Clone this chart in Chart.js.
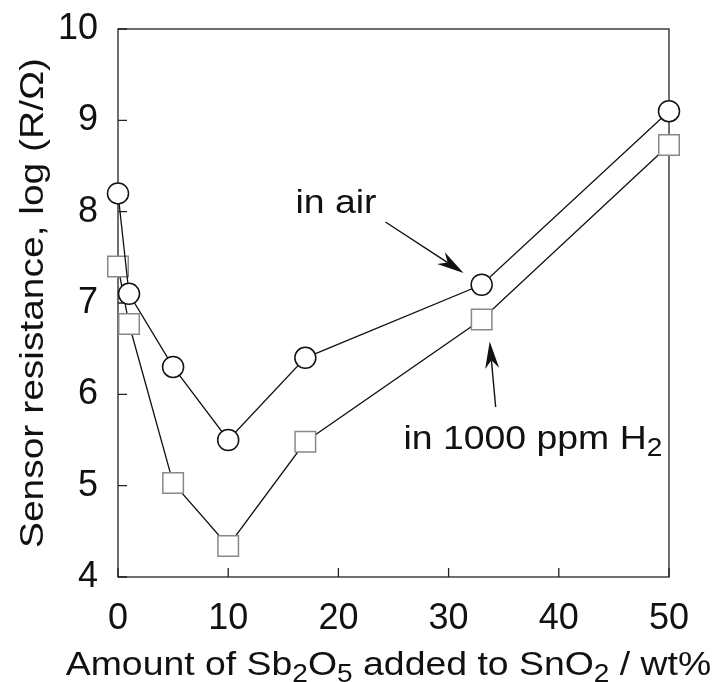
<!DOCTYPE html>
<html><head><meta charset="utf-8">
<script src="https://cdn.jsdelivr.net/npm/chart.js@4"></script>
<style>html,body{margin:0;padding:0;background:#fff}#wrap{width:716px;height:682px}</style>
</head><body><div id="wrap"><canvas id="c" width="716" height="682"></canvas></div>
<script>
// ---- data ----
const sb2o5Amount = [0, 1, 5, 10, 17, 33, 50];
const resistanceInAir = [8.2, 7.1, 6.3, 5.5, 6.4, 7.2, 9.1];
const resistanceInH2 = [7.4, 6.77, 5.03, 4.34, 5.48, 6.82, 8.73];
const xTickValues = [0, 10, 20, 30, 40, 50];
const yTickValues = [4, 5, 6, 7, 8, 9, 10];
const xTitleParts = [["Amount of Sb", 0], ["2", 1], ["O", 0], ["5", 1], [" added to SnO", 0], ["2", 1], [" / wt%", 0]];
const yTitle = "Sensor resistance, log (R/Ω)";
const airLabelParts = [["in air", 0]];
const h2LabelParts = [["in 1000 ppm H", 0], ["2", 1]];
// annotation anchors in data units
const airLabelAt = [16.1, 7.99];
const airArrow = [[24.27, 7.887], [31.36, 7.329]];
const h2LabelAt = [25.9, 5.40];
const h2Arrow = [[34.27, 5.861], [33.73, 6.579]];

const FONT = "'Liberation Sans', Arial, Helvetica, sans-serif";

function toPts(xs, ys) { return xs.map((x, i) => ({ x: x, y: ys[i] })); }

function drawParts(ctx, parts, x, y, size, stretch, align) {
  ctx.save();
  ctx.translate(x, y);
  ctx.scale(stretch, 1);
  let total = 0;
  const widths = parts.map(p => {
    ctx.font = (p[1] ? size * 0.75 : size) + "px " + FONT;
    const w = ctx.measureText(p[0]).width;
    total += w; return w;
  });
  let cx = align === 'center' ? -total / 2 : 0;
  ctx.textBaseline = 'alphabetic';
  ctx.textAlign = 'left';
  parts.forEach((p, i) => {
    ctx.font = (p[1] ? size * 0.75 : size) + "px " + FONT;
    ctx.fillText(p[0], cx, p[1] ? size * 0.2 : 0);
    cx += widths[i];
  });
  ctx.restore();
}

function drawArrow(ctx, x1, y1, x2, y2) {
  const dx = x2 - x1, dy = y2 - y1, len = Math.hypot(dx, dy);
  const ux = dx / len, uy = dy / len, nx = -uy, ny = ux;
  const L = 27, W = 7, N = 8;
  const bx = x2 - ux * L, by = y2 - uy * L;
  const kx = x2 - ux * (L - N), ky = y2 - uy * (L - N);
  ctx.save();
  ctx.strokeStyle = '#111'; ctx.fillStyle = '#111'; ctx.lineWidth = 1.4;
  ctx.beginPath(); ctx.moveTo(x1, y1); ctx.lineTo(kx, ky); ctx.stroke();
  ctx.beginPath();
  ctx.moveTo(x2, y2);
  ctx.lineTo(bx + nx * W, by + ny * W);
  ctx.lineTo(kx, ky);
  ctx.lineTo(bx - nx * W, by - ny * W);
  ctx.closePath(); ctx.fill();
  ctx.restore();
}

const framePlugin = {
  id: 'frame',
  beforeDatasetsDraw(chart) {
    const { ctx, chartArea: a, scales } = chart;
    ctx.save();
    ctx.strokeStyle = '#222'; ctx.lineWidth = 1.3;
    ctx.strokeRect(a.left, a.top, a.right - a.left, a.bottom - a.top);
    ctx.beginPath();
    yTickValues.forEach(v => {
      const y = scales.y.getPixelForValue(v);
      ctx.moveTo(a.left, y); ctx.lineTo(a.left + 9, y);
    });
    xTickValues.forEach(v => {
      const x = scales.x.getPixelForValue(v);
      ctx.moveTo(x, a.bottom); ctx.lineTo(x, a.bottom - 9);
    });
    ctx.stroke();
    ctx.restore();
  },
  afterDraw(chart) {
    const { ctx, chartArea: a, scales } = chart;
    const px = p => [scales.x.getPixelForValue(p[0]), scales.y.getPixelForValue(p[1])];
    ctx.save();
    ctx.fillStyle = '#111';
    // x title
    drawParts(ctx, xTitleParts, (a.left + a.right) / 2 - 5, 675, 34, 1.1, 'center');
    // y title
    ctx.save();
    ctx.translate(43, (a.top + a.bottom) / 2);
    ctx.rotate(-Math.PI / 2);
    drawParts(ctx, [[yTitle, 0]], 0, 0, 33, 1.18, 'center');
    ctx.restore();
    // annotations
    let p = px(airLabelAt);
    drawParts(ctx, airLabelParts, p[0], p[1], 34, 1.1, 'left');
    p = px(h2LabelAt);
    drawParts(ctx, h2LabelParts, p[0], p[1], 34, 1.1, 'left');
    let f = px(airArrow[0]), t = px(airArrow[1]);
    drawArrow(ctx, f[0], f[1], t[0], t[1]);
    f = px(h2Arrow[0]); t = px(h2Arrow[1]);
    drawArrow(ctx, f[0], f[1], t[0], t[1]);
    ctx.restore();
  }
};

new Chart(document.getElementById('c'), {
  type: 'line',
  data: {
    datasets: [
      {
        label: 'in air',
        data: toPts(sb2o5Amount, resistanceInAir),
        borderColor: '#111', borderWidth: 1.3,
        pointStyle: 'circle', pointRadius: 10.5, pointBorderWidth: 1.5,
        pointBackgroundColor: '#fff', pointBorderColor: '#111',
        tension: 0, clip: false
      },
      {
        label: 'in 1000 ppm H2',
        data: toPts(sb2o5Amount, resistanceInH2),
        borderColor: '#111', borderWidth: 1.3,
        pointStyle: 'rect', pointRadius: 14.5, pointBorderWidth: 1.5,
        pointBackgroundColor: '#fff', pointBorderColor: '#888',
        tension: 0, clip: false
      }
    ]
  },
  options: {
    responsive: false, animation: false, devicePixelRatio: 1,
    layout: { padding: { top: 29, right: 47, left: 0, bottom: 0 } },
    plugins: { legend: { display: false }, tooltip: { enabled: false } },
    scales: {
      x: {
        type: 'linear', min: 0, max: 50,
        afterBuildTicks(s) { s.ticks = xTickValues.map(v => ({ value: v })); },
        afterFit(s) { s.height = 105; s.paddingLeft = 0; s.paddingRight = 0; },
        grid: { display: false, drawTicks: false },
        border: { display: false },
        ticks: { font: { family: FONT, size: 36 }, color: '#111', padding: 20, maxRotation: 0, autoSkip: false }
      },
      y: {
        type: 'linear', min: 4, max: 10,
        afterBuildTicks(s) { s.ticks = yTickValues.map(v => ({ value: v })); },
        afterFit(s) { s.width = 118; s.paddingTop = 0; s.paddingBottom = 0; },
        grid: { display: false, drawTicks: false },
        border: { display: false },
        ticks: { font: { family: FONT, size: 36 }, color: '#111', padding: 20, autoSkip: false }
      }
    }
  },
  plugins: [framePlugin]
});
</script></body></html>
